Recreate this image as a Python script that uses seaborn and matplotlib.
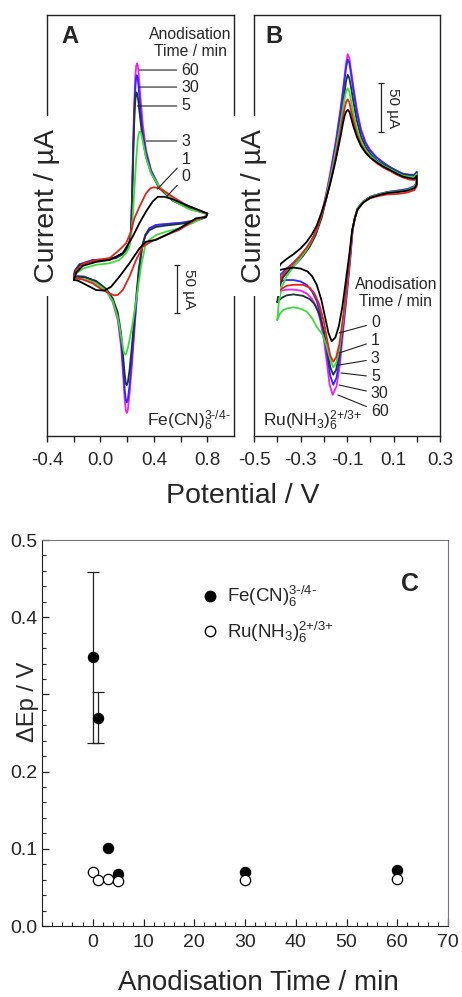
import numpy as np
import pandas as pd
import matplotlib
matplotlib.use("Agg")
import matplotlib.pyplot as plt
import seaborn as sns
from matplotlib.lines import Line2D
from matplotlib.ticker import MultipleLocator

# anodisation times (min), one CV per time
times = [0, 1, 3, 5, 30, 60]
colours = ['#000000', '#e3241b', '#3ddc3d', '#1e3535', '#2b2bff', '#f020f0']

# panel A, Fe(CN)6 3-/4- : (potential / V, current / uA)
fe_0 = [(-0.20, -57), (-0.18, -49), (-0.13, -42), (-0.03, -38), (0.07, -36), (0.167, -29), (0.242, -11.5),
        (0.292, 2.5), (0.341, 14.5), (0.391, 25), (0.429, 30), (0.479, 30), (0.541, 27.5), (0.64, 21.5),
        (0.74, 16), (0.80, 12.5), (0.79, 9), (0.715, 7.5), (0.591, -3), (0.491, -10), (0.416, -15),
        (0.341, -17), (0.292, -24), (0.217, -39.5), (0.142, -53.5), (0.08, -64), (0.03, -68),
        (-0.032, -67.5), (-0.107, -62), (-0.17, -57.5), (-0.20, -57)]
fe_1 = [(-0.20, -55), (-0.18, -47), (-0.13, -40), (-0.03, -36), (0.07, -34), (0.142, -25.5), (0.192, -18.5),
        (0.229, -6.5), (0.254, 7.5), (0.292, 19.5), (0.341, 33.5), (0.375, 39), (0.404, 40), (0.435, 39),
        (0.466, 37), (0.50, 34), (0.541, 30), (0.64, 21.5), (0.74, 15.5), (0.80, 12.5), (0.79, 9),
        (0.715, 6.5), (0.591, -4.5), (0.466, -11.5), (0.391, -16), (0.317, -22), (0.267, -36), (0.217, -53.5),
        (0.167, -67.5), (0.13, -72.5), (0.105, -73), (0.067, -71), (0.017, -67.5), (-0.057, -60.5),
        (-0.132, -56.5), (-0.182, -55), (-0.20, -55)]
fe_3 = [(-0.20, -56), (-0.18, -50), (-0.13, -45), (-0.03, -41), (0.067, -39.5), (0.142, -36), (0.192, -29),
        (0.215, -23), (0.229, -14), (0.242, 9), (0.254, 37), (0.267, 68), (0.279, 89), (0.286, 95.5),
        (0.292, 98), (0.299, 98), (0.307, 95), (0.321, 85), (0.341, 71), (0.379, 54.5), (0.441, 40.5),
        (0.541, 26.5), (0.665, 17), (0.753, 14), (0.80, 12), (0.778, 9), (0.69, 2.5), (0.591, -3),
        (0.491, -6.5), (0.416, -10), (0.366, -15), (0.336, -20.5), (0.304, -43), (0.272, -74), (0.237, -106),
        (0.207, -127), (0.195, -133), (0.187, -135), (0.179, -134), (0.172, -130), (0.155, -116),
        (0.13, -96), (0.092, -79), (0.042, -68), (-0.032, -60.5), (-0.12, -56), (-0.18, -55.5), (-0.20, -56)]
fe_5 = [(-0.20, -55), (-0.19, -48), (-0.157, -41), (-0.057, -37), (0.042, -36), (0.117, -34), (0.167, -30),
        (0.195, -25.5), (0.215, -20), (0.226, -12), (0.232, 4), (0.238, 32), (0.245, 70), (0.252, 104),
        (0.259, 127), (0.265, 136), (0.270, 139), (0.276, 137), (0.284, 130), (0.295, 115), (0.315, 92),
        (0.341, 72), (0.379, 55), (0.441, 39), (0.541, 26), (0.665, 17.5), (0.753, 14), (0.80, 12),
        (0.79, 8.5), (0.715, 5), (0.616, 2), (0.491, 0), (0.416, -1.5), (0.366, -5), (0.336, -11),
        (0.312, -22), (0.287, -46), (0.262, -83), (0.237, -124), (0.218, -151), (0.205, -164), (0.197, -167),
        (0.190, -165), (0.182, -156), (0.172, -140), (0.155, -113), (0.13, -91), (0.092, -76), (0.042, -66),
        (-0.032, -58), (-0.12, -54), (-0.18, -53.5), (-0.20, -55)]
fe_30 = [(-0.20, -54), (-0.19, -47), (-0.157, -40.5), (-0.057, -36), (0.042, -35.5), (0.117, -33),
         (0.167, -29), (0.195, -24.5), (0.215, -19), (0.226, -11), (0.232, 6), (0.238, 36), (0.245, 78),
         (0.253, 118), (0.261, 143), (0.267, 154), (0.272, 157), (0.278, 155), (0.285, 146), (0.297, 126),
         (0.315, 99), (0.341, 76), (0.379, 57), (0.441, 40), (0.541, 26.5), (0.665, 18), (0.753, 14.5),
         (0.80, 12.5), (0.79, 9), (0.715, 5.5), (0.616, 3), (0.491, 1.5), (0.416, 0.5), (0.366, -3),
         (0.336, -10), (0.312, -22), (0.287, -49), (0.262, -91), (0.237, -136), (0.218, -167), (0.205, -182),
         (0.197, -185), (0.190, -182), (0.182, -172), (0.172, -152), (0.155, -120), (0.13, -95), (0.092, -78),
         (0.042, -67), (-0.032, -58.5), (-0.12, -53.5), (-0.18, -53), (-0.20, -54)]
fe_60 = [(-0.20, -55), (-0.194, -48), (-0.157, -41), (-0.057, -36.5), (0.042, -36), (0.117, -33),
         (0.167, -29), (0.195, -24), (0.215, -18), (0.226, -10), (0.232, 8), (0.238, 40), (0.245, 85),
         (0.253, 128), (0.261, 156), (0.268, 167), (0.274, 169.5), (0.280, 167), (0.287, 157), (0.299, 135),
         (0.317, 106), (0.341, 79), (0.379, 58), (0.441, 40.5), (0.541, 26.5), (0.665, 18), (0.753, 14.5),
         (0.80, 12.5), (0.79, 9), (0.715, 5.5), (0.616, 3), (0.491, 1.5), (0.416, 0.5), (0.366, -3),
         (0.336, -10), (0.312, -22), (0.287, -50), (0.262, -95), (0.237, -144), (0.218, -176), (0.205, -193),
         (0.197, -196), (0.190, -193), (0.182, -182), (0.172, -161), (0.155, -127), (0.13, -99), (0.092, -80),
         (0.042, -67.5), (-0.032, -59), (-0.12, -53.5), (-0.18, -53), (-0.20, -55)]

# panel B, Ru(NH3)6 2+/3+
ru_0 = [(-0.40, -47), (-0.385, -40), (-0.36, -35), (-0.33, -30), (-0.30, -24), (-0.273, -17), (-0.25, -9),
        (-0.23, 0), (-0.209, 14), (-0.19, 28), (-0.173, 43), (-0.16, 56), (-0.147, 70), (-0.137, 82),
        (-0.127, 94), (-0.118, 106), (-0.111, 114), (-0.104, 119), (-0.097, 121), (-0.09, 119), (-0.083, 113),
        (-0.073, 104), (-0.058, 93), (-0.04, 83), (-0.02, 76), (0.0, 71), (0.028, 66), (0.06, 61), (0.085, 58),
        (0.115, 54), (0.142, 51), (0.17, 49.5), (0.19, 49), (0.20, 52), (0.20, 43), (0.19, 39), (0.16, 36.5),
        (0.12, 35), (0.075, 34), (0.04, 32), (0.0, 29), (-0.03, 24), (-0.054, 17), (-0.066, 8), (-0.078, -5),
        (-0.09, -30), (-0.105, -58), (-0.12, -85), (-0.135, -105), (-0.15, -117), (-0.166, -121),
        (-0.18, -112), (-0.195, -95), (-0.21, -78), (-0.23, -62), (-0.25, -53), (-0.27, -48), (-0.30, -45),
        (-0.33, -44), (-0.36, -45), (-0.38, -46), (-0.40, -47)]
ru_1 = [(-0.40, -70), (-0.385, -55), (-0.36, -46), (-0.33, -39), (-0.30, -31), (-0.273, -23), (-0.25, -14),
        (-0.23, -4), (-0.209, 11), (-0.19, 27), (-0.173, 44), (-0.16, 58), (-0.147, 74), (-0.137, 87),
        (-0.127, 100), (-0.118, 113), (-0.111, 122), (-0.104, 129), (-0.097, 131.8), (-0.09, 129),
        (-0.083, 121), (-0.073, 110), (-0.058, 96), (-0.04, 85), (-0.02, 77), (0.0, 71), (0.028, 65),
        (0.06, 60), (0.085, 57), (0.115, 53), (0.142, 50), (0.17, 48), (0.19, 47.5), (0.20, 50), (0.20, 41),
        (0.19, 37), (0.16, 34.5), (0.12, 33), (0.075, 32.5), (0.04, 31), (0.0, 28.5), (-0.03, 24),
        (-0.054, 17), (-0.066, 8), (-0.077, -5), (-0.089, -35), (-0.103, -67), (-0.118, -98), (-0.133, -124),
        (-0.147, -138), (-0.159, -142.3), (-0.172, -136), (-0.185, -120), (-0.20, -100), (-0.22, -82),
        (-0.24, -71), (-0.26, -65), (-0.29, -62), (-0.33, -62), (-0.36, -63), (-0.38, -66), (-0.40, -70)]
ru_3 = [(-0.40, -98.7), (-0.393, -80), (-0.38, -64), (-0.36, -53), (-0.33, -43), (-0.30, -34), (-0.273, -25),
        (-0.25, -15), (-0.23, -4), (-0.209, 12), (-0.19, 30), (-0.173, 48), (-0.16, 63), (-0.147, 80),
        (-0.137, 94), (-0.127, 108), (-0.118, 122), (-0.111, 132), (-0.104, 140), (-0.097, 143.3),
        (-0.09, 140), (-0.083, 131), (-0.073, 118), (-0.058, 101), (-0.04, 88), (-0.02, 79), (0.0, 73),
        (0.028, 67), (0.06, 62), (0.085, 59), (0.115, 55), (0.142, 52), (0.17, 51), (0.19, 51), (0.20, 54),
        (0.20, 44), (0.19, 40), (0.16, 37), (0.12, 35.5), (0.075, 34.5), (0.04, 32.5), (0.0, 29.5),
        (-0.03, 25), (-0.054, 18), (-0.066, 8), (-0.077, -5), (-0.089, -36), (-0.103, -70), (-0.118, -102),
        (-0.133, -130), (-0.147, -144), (-0.159, -148.2), (-0.172, -140), (-0.187, -127), (-0.205, -114),
        (-0.23, -106), (-0.25, -97), (-0.273, -90), (-0.30, -87), (-0.33, -85.5), (-0.355, -86.5),
        (-0.374, -88.3), (-0.388, -92), (-0.40, -98.7)]
ru_5 = [(-0.40, -80), (-0.39, -64), (-0.375, -54), (-0.35, -47), (-0.32, -40), (-0.29, -32), (-0.26, -22),
        (-0.235, -10), (-0.209, 8), (-0.19, 27), (-0.173, 46), (-0.16, 63), (-0.147, 80), (-0.137, 96),
        (-0.127, 111), (-0.118, 126), (-0.111, 138), (-0.104, 151), (-0.097, 157.5), (-0.09, 154),
        (-0.083, 145), (-0.073, 130), (-0.058, 110), (-0.04, 93), (-0.02, 82), (0.0, 75), (0.028, 68),
        (0.06, 63), (0.085, 60), (0.115, 56), (0.142, 53), (0.17, 52), (0.19, 52), (0.20, 55), (0.20, 44),
        (0.19, 40), (0.16, 37), (0.12, 35.5), (0.075, 34.5), (0.04, 32.5), (0.0, 29.5), (-0.03, 25),
        (-0.054, 18), (-0.066, 8), (-0.077, -5), (-0.089, -37), (-0.103, -71), (-0.118, -104), (-0.133, -134),
        (-0.147, -151), (-0.159, -156), (-0.172, -148), (-0.185, -130), (-0.20, -110), (-0.22, -92),
        (-0.24, -82), (-0.26, -77), (-0.29, -73.5), (-0.33, -72), (-0.36, -73), (-0.38, -75.5), (-0.40, -80)]
ru_30 = [(-0.40, -60), (-0.385, -51), (-0.36, -45), (-0.33, -39), (-0.30, -32), (-0.273, -24), (-0.25, -15),
         (-0.23, -5), (-0.209, 11), (-0.19, 31), (-0.173, 51), (-0.16, 69), (-0.147, 87), (-0.137, 104),
         (-0.127, 120), (-0.118, 137), (-0.111, 151), (-0.104, 165), (-0.097, 173.5), (-0.09, 170),
         (-0.083, 159), (-0.073, 142), (-0.058, 119), (-0.04, 99), (-0.02, 86), (0.0, 78), (0.028, 71),
         (0.06, 65), (0.085, 61), (0.115, 57), (0.142, 54), (0.17, 53), (0.19, 53), (0.20, 56), (0.20, 45),
         (0.19, 41), (0.16, 38), (0.12, 36.5), (0.075, 35), (0.04, 33), (0.0, 30), (-0.03, 25), (-0.054, 18),
         (-0.066, 8), (-0.076, -5), (-0.088, -38), (-0.102, -72), (-0.117, -106), (-0.131, -138),
         (-0.145, -159), (-0.159, -166.5), (-0.172, -157), (-0.185, -136), (-0.20, -112), (-0.215, -92),
         (-0.23, -79), (-0.25, -69), (-0.273, -62), (-0.30, -58.5), (-0.33, -57), (-0.36, -57), (-0.38, -58),
         (-0.40, -60)]
ru_60 = [(-0.40, -70), (-0.385, -57), (-0.36, -49), (-0.33, -42), (-0.30, -35), (-0.273, -26), (-0.25, -17),
         (-0.23, -6), (-0.209, 12), (-0.19, 33), (-0.173, 54), (-0.16, 72), (-0.147, 90), (-0.137, 107),
         (-0.127, 124), (-0.118, 141), (-0.111, 155), (-0.104, 170), (-0.097, 179), (-0.09, 175),
         (-0.083, 163), (-0.073, 146), (-0.058, 122), (-0.04, 101), (-0.02, 87), (0.0, 79), (0.028, 71),
         (0.06, 65), (0.085, 61), (0.115, 57), (0.142, 54), (0.17, 53), (0.19, 53), (0.20, 56), (0.20, 45),
         (0.19, 41), (0.16, 38), (0.12, 36.5), (0.075, 35), (0.04, 33), (0.0, 30), (-0.03, 25), (-0.054, 18),
         (-0.066, 8), (-0.076, -5), (-0.087, -39), (-0.101, -74), (-0.116, -109), (-0.13, -144),
         (-0.145, -168), (-0.162, -177), (-0.175, -166), (-0.187, -142), (-0.20, -119), (-0.215, -99),
         (-0.23, -86), (-0.25, -77), (-0.273, -71), (-0.30, -68), (-0.33, -67), (-0.36, -67), (-0.38, -68),
         (-0.40, -70)]

# panel C, peak separation vs anodisation time
dep_time = [0, 1, 3, 5, 30, 60]
dep_fe = [0.348, 0.270, 0.101, 0.068, 0.0695, 0.0725]
dep_fe_err = [0.111, 0.033, 0.0, 0.0, 0.0, 0.0]
dep_ru = [0.070, 0.059, 0.061, 0.058, 0.059, 0.061]

fe_name = r'$\mathrm{Fe(CN)}_6^{\text{3-/4-}}$'
ru_name = r'$\mathrm{Ru(NH_3)}_6^{\text{2+/3+}}$'


def cv_frame(curves):
    rows = []
    for t, pts in zip(times, curves):
        for k, (e, i) in enumerate(pts):
            rows.append({'time': t, 'step': k, 'E': e, 'I': i})
    return pd.DataFrame(rows)


sns.set_style('ticks')
plt.rcParams['font.family'] = ['Liberation Sans', 'DejaVu Sans']
plt.rcParams['mathtext.fontset'] = 'custom'
plt.rcParams['mathtext.rm'] = 'Liberation Sans'
plt.rcParams['mathtext.it'] = 'Liberation Sans:italic'
plt.rcParams['mathtext.bf'] = 'Liberation Sans:bold'

W, H = 462, 997
fig = plt.figure(figsize=(W / 100, H / 100), dpi=100)


def px_axes(l, t, r, b):
    return fig.add_axes([l / W, 1 - b / H, (r - l) / W, (b - t) / H])


axA = px_axes(47, 15, 234, 436)
axB = px_axes(254, 15, 440, 436)
axC = px_axes(42, 540, 448, 926)

palette = dict(zip(times, colours))
draw_order = [60, 30, 5, 3, 1, 0]
spine_col = '#222222'

for ax, curves in [(axA, [fe_0, fe_1, fe_3, fe_5, fe_30, fe_60]),
                   (axB, [ru_0, ru_1, ru_3, ru_5, ru_30, ru_60])]:
    df = cv_frame(curves)
    sns.lineplot(data=df, x='E', y='I', hue='time', units='time', estimator=None, sort=False,
                 hue_order=draw_order, palette=palette, lw=1.3, legend=False, ax=ax)
    ax.set_ylim(-220, 220)
    ax.set_yticks([])
    ax.set_xlabel('')
    ax.set_ylabel('')
    for s in ax.spines.values():
        s.set_color(spine_col)
        s.set_linewidth(1.0)
    ax.tick_params(axis='x', direction='out', length=4.5, width=1, labelsize=13.5, pad=7, color=spine_col)
    ax.text(0.0, 0.546, 'Current / µA', transform=ax.transAxes, rotation=90, ha='center', va='center',
            fontsize=20.5, zorder=5, bbox=dict(boxstyle='square,pad=0.45', fc='white', ec='none'))

# panel A axes
axA.set_xlim(-0.4, 1.0)
axA.set_xticks([-0.4, -0.2, 0.0, 0.2, 0.4, 0.6, 0.8])
axA.set_xticklabels(['-0.4', '', '0.0', '', '0.4', '', '0.8'])
axA.text(0.123, 0.948, 'A', transform=axA.transAxes, ha='center', va='center', fontsize=17, fontweight='bold')
axA.text(0.765, 0.933, 'Anodisation\nTime / min', transform=axA.transAxes, ha='center', va='center',
         fontsize=11.3, linespacing=1.15)
a_text = [('60', 162.5, (0.29, 162.5)), ('30', 144.7, (0.29, 144.7)), ('5', 124.9, (0.277, 124.9)),
          ('3', 88.3, (0.344, 88.3)), ('1', 69.5, (0.426, 38)), ('0', 51.7, (0.493, 29.8))]
for lab, ty, xy in a_text:
    axA.annotate(lab, xy=xy, xytext=(0.606, ty), ha='left', va='center', fontsize=11.5,
                 arrowprops=dict(arrowstyle='-', lw=0.8, color='#222222', shrinkA=1, shrinkB=0))
axA.plot([0.576, 0.576], [-41.3, -91.4], color='#222222', lw=0.9, marker='_', markersize=5, mew=0.9)
axA.text(0.665, -66.4, '50 µA', rotation=-90, ha='center', va='center', fontsize=11)
axA.text(0.982, 0.008, fe_name, transform=axA.transAxes, ha='right', va='bottom', fontsize=12.5)

# panel B axes
axB.set_xlim(-0.5, 0.3)
axB.set_xticks(np.round(np.arange(-0.5, 0.31, 0.1), 1))
axB.set_xticklabels(['-0.5', '', '-0.3', '', '-0.1', '', '0.1', '', '0.3'])
axB.text(0.107, 0.948, 'B', transform=axB.transAxes, ha='center', va='center', fontsize=17, fontweight='bold')
axB.text(0.763, 0.34, 'Anodisation\nTime / min', transform=axB.transAxes, ha='center', va='center',
         fontsize=11.3, linespacing=1.15)
b_text = [('0', -101.9, (-0.134, -112.3)), ('1', -120.7, (-0.134, -133.2)), ('3', -139.5, (-0.134, -145.8)),
          ('5', -158.3, (-0.126, -154.1)), ('30', -176.1, (-0.134, -166.7)), ('60', -194.9, (-0.139, -177.1))]
for lab, ty, xy in b_text:
    axB.annotate(lab, xy=xy, xytext=(0.003, ty), ha='left', va='center', fontsize=11.5,
                 arrowprops=dict(arrowstyle='-', lw=0.8, color='#222222', shrinkA=1, shrinkB=0))
axB.plot([0.046, 0.046], [149, 97.7], color='#222222', lw=0.9, marker='_', markersize=5, mew=0.9)
axB.text(0.098, 123, '50 µA', rotation=-90, ha='center', va='center', fontsize=11)
axB.text(0.048, 0.008, ru_name, transform=axB.transAxes, ha='left', va='bottom', fontsize=12.5)

fig.text(243 / W, 1 - 503 / H, 'Potential / V', ha='center', va='baseline', fontsize=20.5)

# panel C
dep = pd.DataFrame({'t': dep_time, 'fe': dep_fe, 'err': dep_fe_err, 'ru': dep_ru})
has_err = dep[dep['err'] > 0]
axC.errorbar(has_err['t'], has_err['fe'], yerr=has_err['err'], fmt='none', ecolor='#222222',
             elinewidth=0.9, capsize=4, capthick=0.9, zorder=2)
sns.scatterplot(data=dep, x='t', y='fe', color='black', edgecolor='black', s=55, linewidth=0.8,
                zorder=3, ax=axC)
sns.scatterplot(data=dep, x='t', y='ru', color='white', edgecolor='black', s=55, linewidth=0.9,
                zorder=4, ax=axC)
axC.set_xlim(-10, 70)
axC.set_ylim(0, 0.5)
axC.set_xticks(range(0, 71, 10))
axC.set_yticks([0.0, 0.1, 0.2, 0.3, 0.4, 0.5])
axC.set_yticklabels(['0.0', '0.1', '0.2', '', '0.4', '0.5'])
axC.xaxis.set_minor_locator(MultipleLocator(2))
axC.yaxis.set_minor_locator(MultipleLocator(0.02))
axC.tick_params(which='both', direction='in', top=False, right=False, color='#222222')
axC.tick_params(which='major', length=5, width=0.9, labelsize=14)
axC.tick_params(axis='x', which='major', pad=6)
axC.tick_params(axis='y', which='major', pad=3.5)
axC.tick_params(which='minor', length=3, width=0.8)
axC.set_xlabel('')
axC.set_ylabel('')
for side in ['left', 'bottom']:
    axC.spines[side].set_color('#222222')
for side in ['top', 'right']:
    axC.spines[side].set_color('#777777')
axC.text(-0.034, 0.58, 'ΔEp / V', transform=axC.transAxes, rotation=90, ha='center', va='center',
         fontsize=17)
axC.text(0.532, -0.166, 'Anodisation Time / min', transform=axC.transAxes, ha='center', va='baseline',
         fontsize=20)
axC.text(0.906, 0.886, 'C', transform=axC.transAxes, ha='center', va='center', fontsize=18, fontweight='bold')
handles = [Line2D([], [], ls='none', marker='o', ms=7.5, mfc='black', mec='black'),
           Line2D([], [], ls='none', marker='o', ms=7.5, mfc='white', mec='black')]
axC.legend(handles, [fe_name, ru_name], loc='upper left', bbox_to_anchor=(0.395, 0.885), frameon=False,
           fontsize=13.5, handlelength=0.8, handletextpad=0.5, borderpad=0, borderaxespad=0,
           labelspacing=0.55)

fig.savefig('out.png', dpi=100)
